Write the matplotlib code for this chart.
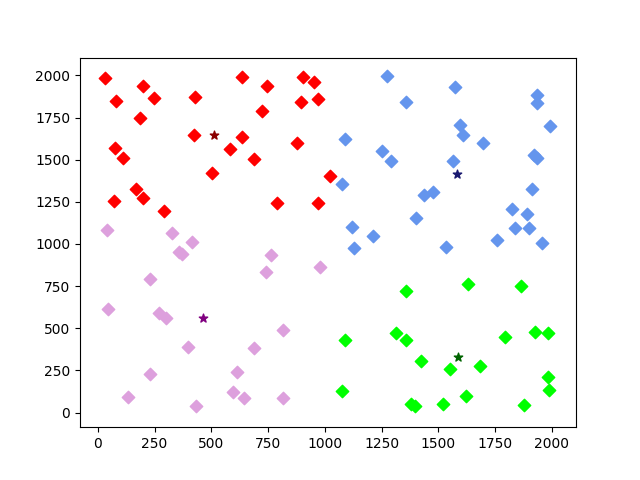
import matplotlib
matplotlib.use("Agg")
import matplotlib.pyplot as plt

red_x = [33, 201, 82, 249, 187, 429, 636, 747, 906, 954, 896, 971, 724, 426, 636, 584, 686, 878, 77, 113, 505, 1021, 168, 201, 73, 293, 791, 968]
red_y = [1983, 1935, 1846, 1864, 1745, 1870, 1989, 1935, 1989, 1959, 1840, 1858, 1787, 1644, 1633, 1561, 1502, 1597, 1567, 1508, 1419, 1401, 1324, 1271, 1253, 1194, 1241, 1241]

blue_x = [1276, 1572, 1360, 1936, 1933, 1597, 1611, 1993, 1698, 1091, 1254, 1294, 1563, 1921, 1937, 1078, 1439, 1479, 1911, 1404, 1827, 1889, 1840, 1902, 1959, 1761, 1536, 1122, 1214, 1131]
blue_y = [1996, 1929, 1840, 1882, 1838, 1708, 1648, 1698, 1597, 1621, 1551, 1490, 1492, 1528, 1512, 1354, 1289, 1306, 1324, 1152, 1206, 1176, 1093, 1093, 1004, 1022, 980, 1099, 1047, 974]

pink_x = [42, 328, 417, 358, 371, 764, 743, 981, 230, 46, 270, 301, 816, 399, 690, 230, 615, 135, 596, 645, 818, 434]
pink_y = [1083, 1063, 1010, 954, 938, 932, 832, 861, 790, 612, 588, 559, 488, 387, 381, 227, 238, 90, 120, 84, 84, 37]

green_x = [1360, 1633, 1863, 1091, 1312, 1356, 1792, 1927, 1982, 1422, 1554, 1682, 1982, 1990, 1078, 1381, 1398, 1519, 1624, 1876]
green_y = [719, 760, 749, 428, 472, 428, 446, 476, 470, 304, 256, 274, 209, 132, 126, 50, 37, 49, 96, 43]

centroid_x = [512, 1583, 465, 1589]
centroid_y = [1644, 1413, 561, 329]

cluster_colors = ["red", "cornflowerblue", "plum", "lime"]
centroid_colors = ["darkred", "midnightblue", "purple", "darkgreen"]

fig, ax = plt.subplots(figsize=(6.4, 4.8), dpi=100)
for xs, ys, c in zip([red_x, blue_x, pink_x, green_x], [red_y, blue_y, pink_y, green_y], cluster_colors):
    ax.scatter(xs, ys, c=c, marker="D", s=40)
for cx, cy, c in zip(centroid_x, centroid_y, centroid_colors):
    ax.scatter([cx], [cy], c=c, marker="*", s=40)

ax.set_xlim(-78.5, 2107)
ax.set_ylim(-87, 2105.6)
fig.savefig("out.png")
